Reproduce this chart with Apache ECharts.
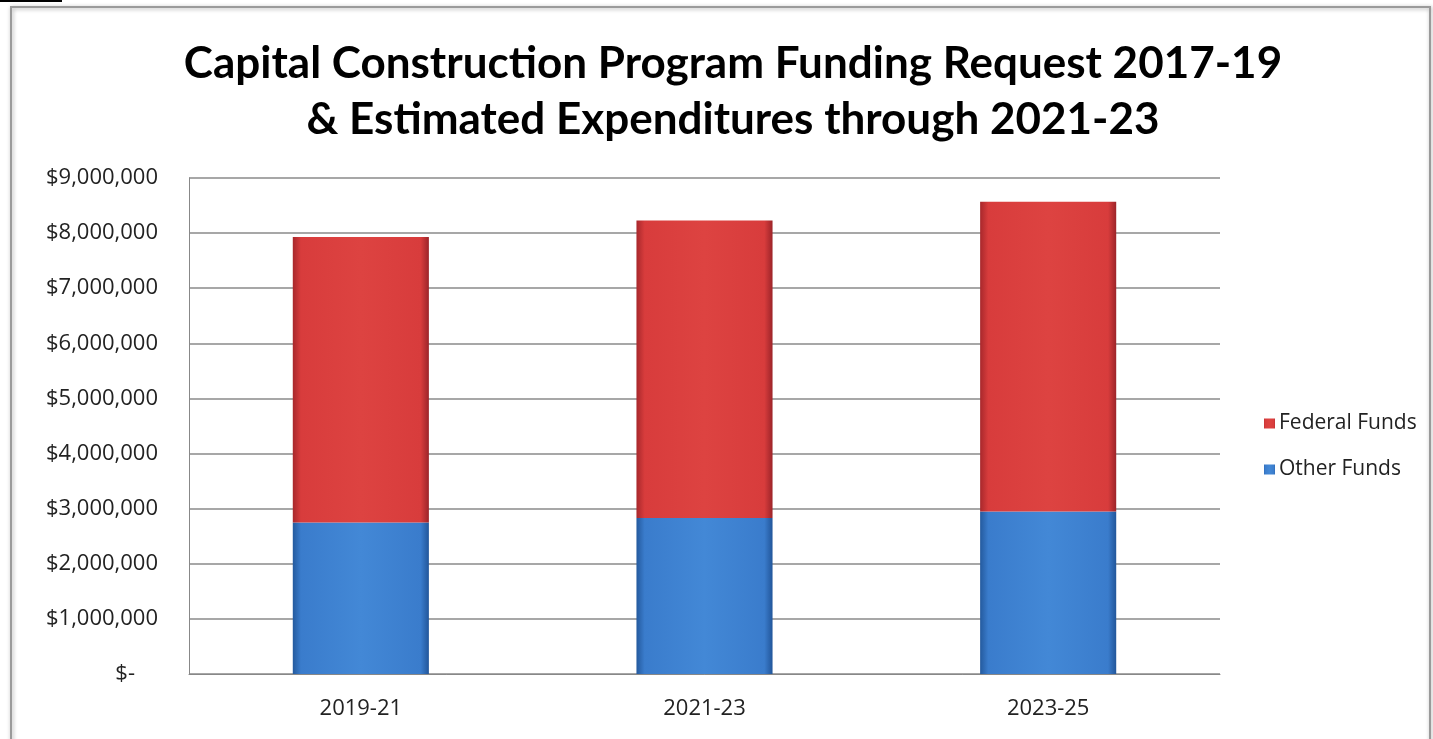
<!DOCTYPE html>
<html><head><meta charset="utf-8">
<script src="https://cdn.jsdelivr.net/npm/echarts@6/dist/echarts.min.js"></script>
<style>html,body{margin:0;padding:0;background:#fff;}#c{width:1433px;height:739px;}</style>
</head><body><div id="c"></div>
<script>
const categories = ['2019-21', '2021-23', '2023-25'];
const otherFunds = [2750000, 2830000, 2950000];
const federalFunds = [5180000, 5400000, 5620000];
const titleText = 'Capital Construction Program Funding Request 2017-19\n& Estimated Expenditures through 2021-23';
const seriesNames = ['Federal Funds', 'Other Funds'];

const chart = echarts.init(document.getElementById('c'));
function fmt(v){
  if (v === 0) return '{z|$-}';
  return '$' + v.toLocaleString('en-US');
}
const redGrad = new echarts.graphic.LinearGradient(0,0,1,0,[
  {offset:0,color:'#a8282c'},{offset:0.06,color:'#d83c3c'},{offset:0.5,color:'#dd4341'},{offset:0.94,color:'#d83c3c'},{offset:1,color:'#9c2429'}]);
const blueGrad = new echarts.graphic.LinearGradient(0,0,1,0,[
  {offset:0,color:'#245a9e'},{offset:0.06,color:'#3a7ccc'},{offset:0.5,color:'#4388d6'},{offset:0.94,color:'#3a7ccc'},{offset:1,color:'#22569a'}]);
chart.setOption({
  animation:false,
  backgroundColor:'#fff',
  title:{text:titleText,left:728,top:31,textAlign:'center',
    textStyle:{fontFamily:'Lato',fontWeight:'bold',fontSize:44,color:'#000',lineHeight:56}},
  graphic:[
    {type:'rect',shape:{x:11,y:7,width:1419,height:740},style:{fill:'none',stroke:'#9a9a9a',lineWidth:2,shadowBlur:4,shadowColor:'rgba(0,0,0,0.35)',shadowOffsetX:1,shadowOffsetY:1},z:-1},
    {type:'line',shape:{x1:0,y1:1,x2:62,y2:1},style:{stroke:'#000',lineWidth:2}}
  ],
  legend:{orient:'vertical',left:1259,top:408,itemGap:25,itemWidth:11,itemHeight:10,
    icon:'rect',data:seriesNames,
    textStyle:{fontFamily:'Open Sans',fontSize:21,color:'#222',padding:[0,0,0,-1]}},
  grid:{left:189,right:213,top:178,bottom:65},
  xAxis:{type:'category',data:categories,
    axisLine:{lineStyle:{color:'#888',width:1}},axisTick:{show:false},
    axisLabel:{fontFamily:'Open Sans',fontSize:22,color:'#222',margin:24}},
  yAxis:{type:'value',min:0,max:9000000,interval:1000000,
    axisLine:{show:true,lineStyle:{color:'#888'}},
    splitLine:{lineStyle:{color:'#8a8a8a',width:1.5}},
    axisLabel:{fontFamily:'Open Sans',fontSize:22,color:'#222',margin:31,formatter:fmt,
      rich:{z:{fontFamily:'Open Sans',fontSize:22,color:'#222',padding:[0,23,0,0]}}}},
  series:[
    {name:'Other Funds',type:'bar',stack:'a',data:otherFunds,barWidth:'39.6%',
      itemStyle:{color:blueGrad},z:2},
    {name:'Federal Funds',type:'bar',stack:'a',data:federalFunds,barWidth:'39.6%',
      itemStyle:{color:redGrad},z:2}
  ]
});
</script></body></html>
